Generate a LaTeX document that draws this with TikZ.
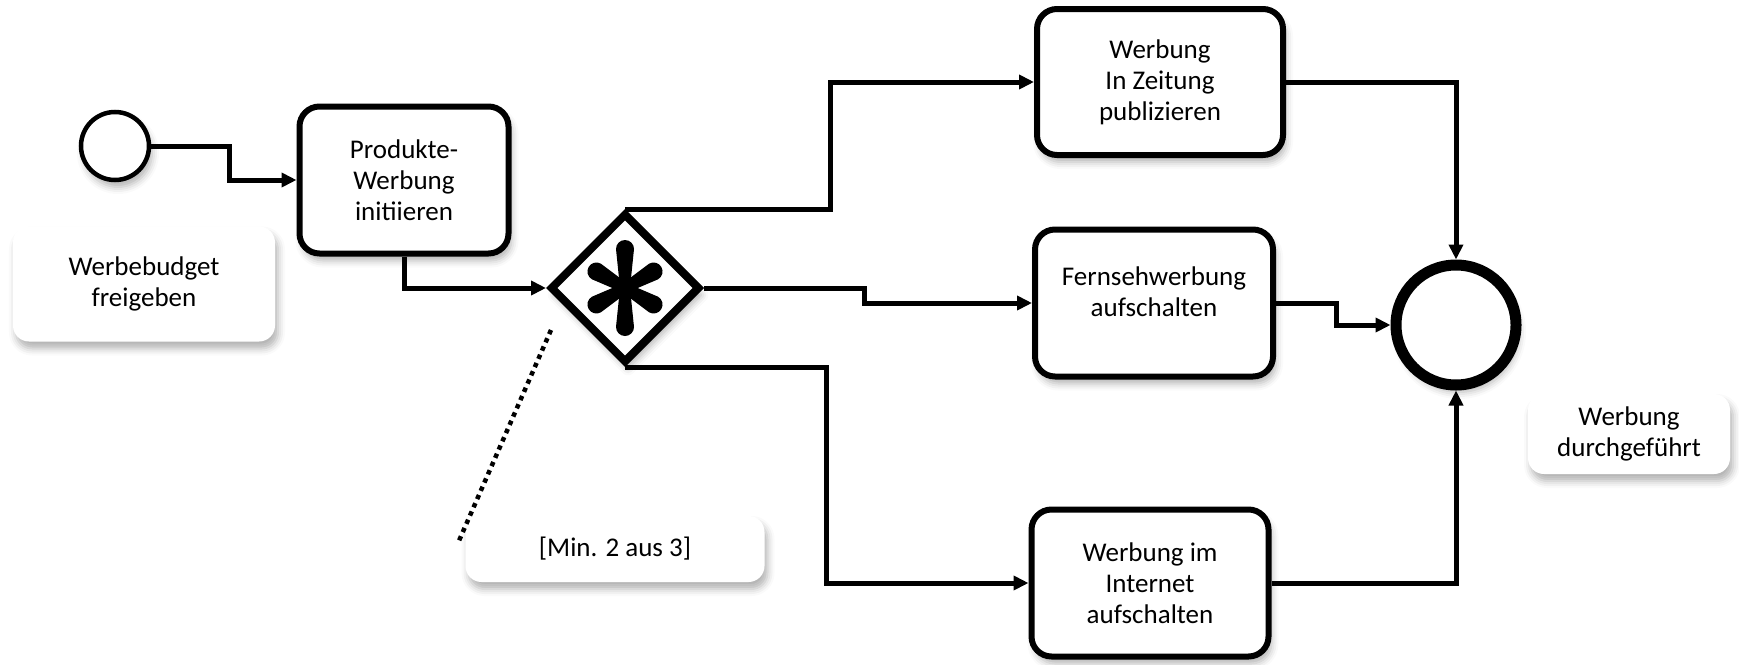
\documentclass[tikz,border=0pt]{standalone}
\usepackage{fontspec}
\setmainfont{Carlito}
\usetikzlibrary{shapes.geometric,arrows.meta,shadows.blur}
\newcommand{\bpmnFont}{\fontsize{27}{31}\selectfont}
\tikzset{
  softShadow/.style={blur shadow={shadow xshift=3pt, shadow yshift=-7pt, shadow blur radius=7pt, shadow opacity=30}},
  taskBox/.style={draw, line width=6pt, rounded corners=20pt, fill=white, align=center, font=\bpmnFont, inner sep=0pt, softShadow},
  noteBox/.style={rounded corners=16pt, fill=white, align=center, font=\bpmnFont, inner sep=0pt, softShadow},
  flowLine/.style={line width=5pt, -{Triangle[length=15pt,width=14pt]}},
}
\begin{document}
\begin{tikzpicture}[x=1pt,y=-1pt]
\useasboundingbox (0,0) rectangle (1739,664);
% annotations
\node[noteBox, minimum width=262, minimum height=115] (budgetNote) at (144,284) {Werbebudget\\freigeben};
\node[noteBox, minimum width=299, minimum height=66] (minNote) at (615,549) {[Min. 2 aus 3]};
\node[noteBox, minimum width=202, minimum height=80] (doneNote) at (1629,434) {Werbung\\durchgeführt};
% events and gateway
\node[circle, draw, line width=4.5pt, fill=white, minimum size=68, inner sep=0pt, softShadow] (startEv) at (115,146) {};
\node[circle, draw, line width=11pt, fill=white, minimum size=120, inner sep=0pt, softShadow] (endEv) at (1456,325) {};
\node[diamond, draw, line width=8pt, fill=white, minimum size=150, inner sep=0pt, softShadow] (orGate) at (625,288) {};
\foreach \a/\len in {90/39,270/39,30/33,150/33,210/33,330/33}
  \fill[shift={(orGate.center)}, rotate=\a] (0,-5) -- (\len,-9) arc[start angle=-90, end angle=90, radius=9] -- (0,5) -- cycle;
% tasks
\node[taskBox, minimum width=209, minimum height=147] (initTask) at (404,180) {Produkte-\\Werbung\\initiieren};
\node[taskBox, minimum width=246, minimum height=146] (paperTask) at (1160,82) {Werbung\\In Zeitung\\publizieren};
\node[taskBox, minimum width=238, minimum height=147] (tvTask) at (1154,303) {};
\node[align=center, font=\bpmnFont] (tvText) at (1154,292) {Fernsehwerbung\\aufschalten};
\node[taskBox, minimum width=237, minimum height=147] (webTask) at (1150,583) {Werbung im\\Internet\\aufschalten};
% flows
\draw[flowLine] (startEv.east) -- ++(78,0) |- (initTask.west);
\draw[flowLine] (initTask.south) |- (orGate.west);
\draw[flowLine] (orGate.north) -- ++(205,0) |- (paperTask.west);
\draw[flowLine] (orGate.east) -- ++(160,0) |- (tvTask.west);
\draw[flowLine] (orGate.south) -- ++(201,0) |- (webTask.west);
\draw[flowLine] (paperTask.east) -| (endEv.north);
\draw[flowLine] (tvTask.east) -- ++(60,0) |- (endEv.west);
\draw[flowLine] (webTask.east) -| (endEv.south);
% association
\coordinate (assocStart) at (551,330);
\coordinate (assocEnd) at (458,543);
\draw[line width=4.5pt, dash pattern=on 4.5pt off 4.5pt] (assocStart) -- (assocEnd);
\end{tikzpicture}
\end{document}
